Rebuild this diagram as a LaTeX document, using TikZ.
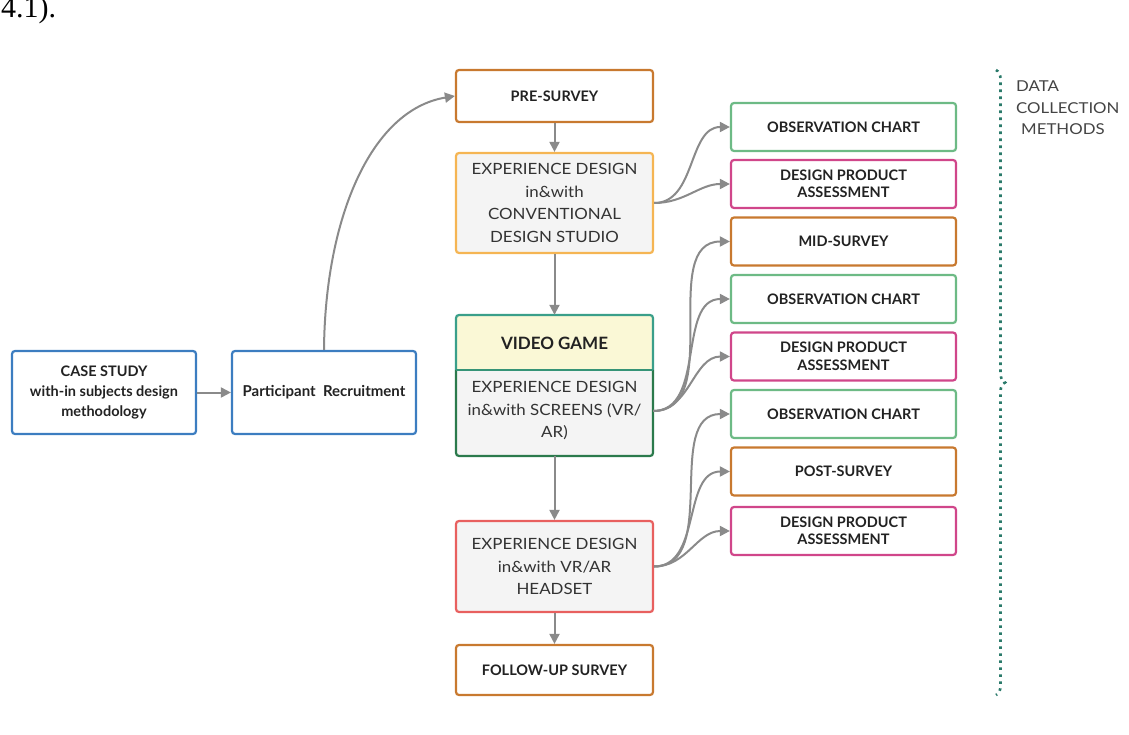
\documentclass[tikz,border=0pt]{standalone}
\usepackage{fontspec}
\setmainfont{Lato}
\newfontfamily\numfont{Liberation Serif}
\newfontfamily\stagefont[FakeStretch=1.09]{Lato}
\newfontfamily\labelfont[FakeStretch=1.12]{Lato}
\usetikzlibrary{arrows.meta,decorations.pathreplacing}

\definecolor{cblue}{HTML}{3C7DC0}
\definecolor{csurvey}{HTML}{C8792F}
\definecolor{cconv}{HTML}{F5B553}
\definecolor{cteal}{HTML}{3A9F8A}
\definecolor{cgreen}{HTML}{2B7A4C}
\definecolor{cred}{HTML}{E8605F}
\definecolor{cobs}{HTML}{6DBA85}
\definecolor{cdpa}{HTML}{D0468A}
\definecolor{headfill}{HTML}{FAF8D6}
\definecolor{grayfill}{HTML}{F4F4F4}
\definecolor{carrow}{HTML}{8A8A8A}
\definecolor{cbrace}{HTML}{2A7A6A}
\definecolor{ctext}{HTML}{222222}
\definecolor{cbody}{HTML}{333333}
\definecolor{clabel}{HTML}{444444}

\tikzset{
  box/.style={draw=#1, line width=2.2pt, rounded corners=3pt, fill=white,
    inner sep=0pt, align=center, text=ctext},
  tagbox/.style={box=#1, minimum width=225pt, minimum height=48pt,
    font=\bfseries\fontsize{14.5}{17.5}\selectfont},
  stagebox/.style={box=#1, fill=grayfill, minimum width=197pt,
    font=\stagefont\fontsize{15.5}{22.5}\selectfont, text=cbody},
  arr/.style={draw=carrow, line width=2pt,
    -{Triangle[length=10pt,width=10pt]}},
}

\begin{document}
\begin{tikzpicture}[x=1pt,y=-1pt]
\useasboundingbox (0,0) rectangle (1129,735);

% trailing text from the page above
\node[anchor=base west, inner sep=0pt, font=\numfont\fontsize{30}{30}\selectfont] (ref) at (1,18) {4.1).};

% left column
\node[box=cblue, minimum width=184pt, minimum height=83pt,
  font=\bfseries\fontsize{14.5}{20}\selectfont] (case) at (104,392.5)
  {CASE STUDY\\with-in subjects design\\methodology};
\node[box=cblue, minimum width=184pt, minimum height=83pt,
  font=\bfseries\fontsize{15}{20}\selectfont] (recruit) at (324,392.5)
  {Participant\ \ Recruitment};

% central column
\node[tagbox=csurvey, minimum width=197pt, minimum height=52pt] (pre) at (554.5,96) {PRE-SURVEY};
\node[stagebox=cconv, minimum height=100pt] (conv) at (554.5,203)
  {EXPERIENCE DESIGN\\in\&with\\CONVENTIONAL\\DESIGN STUDIO};

% video game stage: header and body
\node[fill=grayfill, minimum width=197pt, minimum height=141pt, inner sep=0pt] (vg) at (554.5,385.5) {};
\fill[headfill] (457,316) rectangle (652,370);
\draw[cteal, line width=2.2pt, rounded corners=3pt] (456,370) -- (456,315) -- (653,315) -- (653,370);
\draw[cgreen, line width=2.2pt, rounded corners=3pt] (456,370) -- (456,456) -- (653,456) -- (653,370);
\draw[cteal!70!cgreen, line width=2.2pt] (456,370) -- (653,370);
\node[font=\bfseries\fontsize{17}{20}\selectfont, text=ctext] (vgtitle) at (554.5,343) {VIDEO GAME};
\node[align=center, font=\stagefont\fontsize{15.5}{22.5}\selectfont, text=cbody] (vgtext) at (554.5,411)
  {EXPERIENCE DESIGN\\in\&with SCREENS (VR/\\AR)};

\node[stagebox=cred, minimum height=91pt] (head) at (554.5,566.5)
  {EXPERIENCE DESIGN\\in\&with VR/AR\\HEADSET};
\node[tagbox=csurvey, minimum width=197pt, minimum height=50pt] (follow) at (554.5,670) {FOLLOW-UP SURVEY};

% right column: data collection instruments
\node[tagbox=cobs]    (obsA) at (843.5,127)   {OBSERVATION CHART};
\node[tagbox=cdpa]    (dpaA) at (843.5,184)   {DESIGN PRODUCT\\ASSESSMENT};
\node[tagbox=csurvey] (mid)  at (843.5,241.5) {MID-SURVEY};
\node[tagbox=cobs]    (obsB) at (843.5,299)   {OBSERVATION CHART};
\node[tagbox=cdpa]    (dpaB) at (843.5,356.5) {DESIGN PRODUCT\\ASSESSMENT};
\node[tagbox=cobs]    (obsC) at (843.5,414)   {OBSERVATION CHART};
\node[tagbox=csurvey] (post) at (843.5,471.5) {POST-SURVEY};
\node[tagbox=cdpa]    (dpaC) at (843.5,531)   {DESIGN PRODUCT\\ASSESSMENT};

% flow connectors
\draw[arr] (case) -- (recruit);
\draw[arr] (recruit.north) .. controls (325,220) and (370,110) .. (pre.west);
\draw[arr] (pre) -- (conv);
\draw[arr] (conv) -- (vg);
\draw[arr] (vg) -- (head);
\draw[arr] (head) -- (follow);

% fan-out connectors
\foreach \t in {obsA,dpaA}
  \draw[arr] (conv.east) to[out=0,in=180] (\t.west);
\foreach \t in {mid,obsB,dpaB}
  \draw[arr] (vg.east |- vgtext.center) to[out=0,in=180] (\t.west);
\foreach \t in {obsC,post,dpaC}
  \draw[arr] (head.east) to[out=0,in=180] (\t.west);

% grouping brace and its label
\coordinate (braceTop) at (996,70);
\coordinate (braceBot) at (996,695);
\draw[cbrace, line width=2.6pt, dash pattern=on 2.6pt off 4.4pt,
  decorate, decoration={brace, amplitude=9pt}] (braceTop) -- (braceBot);
\node[anchor=north west, align=left, inner sep=0pt, text=clabel,
  font=\labelfont\fontsize{15}{21.5}\selectfont] (dcm) at (1016,81)
  {DATA\\COLLECTION\\\hspace{5pt}METHODS};

\end{tikzpicture}
\end{document}
